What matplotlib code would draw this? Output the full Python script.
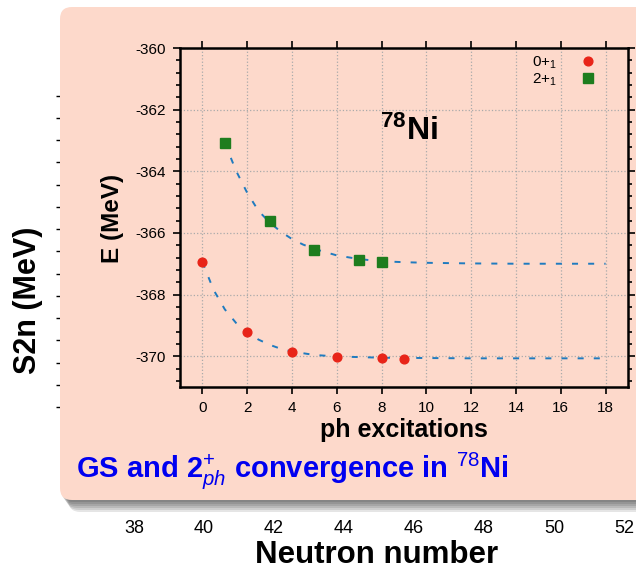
import numpy as np
import matplotlib
matplotlib.use('Agg')
import matplotlib.pyplot as plt
from matplotlib.patches import FancyBboxPatch
from matplotlib.ticker import MultipleLocator

plt.rcParams['font.family'] = ['Liberation Sans', 'DejaVu Sans']
plt.rcParams['mathtext.fontset'] = 'custom'
plt.rcParams['mathtext.rm'] = 'Liberation Sans'
plt.rcParams['mathtext.it'] = 'Liberation Sans:italic'
plt.rcParams['mathtext.bf'] = 'Liberation Sans:bold'
plt.rcParams['axes.unicode_minus'] = False

# 0+_1 (ground state) vs number of ph excitations
gs_x = [0, 2, 4, 6, 8, 9]
gs_e = [-366.95, -369.22, -369.86, -370.02, -370.07, -370.08]
# 2+_1 state
ex_x = [1, 3, 5, 7, 8]
ex_e = [-363.08, -365.62, -366.54, -366.88, -366.93]

# dashed exponential fits
gs_fit_x = [0, 0.5, 1, 1.5, 2, 2.5, 3, 3.5, 4, 5, 6, 7, 8, 10, 12, 14, 16, 18]
gs_fit_e = [-366.95, -367.85, -368.48, -368.92, -369.22, -369.46, -369.63,
            -369.76, -369.85, -369.96, -370.01, -370.03, -370.05, -370.06,
            -370.07, -370.07, -370.07, -370.07]
ex_fit_x = [1, 1.5, 2, 2.5, 3, 3.5, 4, 4.5, 5, 6, 7, 8, 9, 10, 12, 14, 16, 18]
ex_fit_e = [-363.08, -363.98, -364.70, -365.28, -365.66, -365.96, -366.20,
            -366.38, -366.52, -366.73, -366.85, -366.92, -366.95, -366.97,
            -366.99, -367.0, -367.0, -367.0]

ph_ticks = list(range(0, 19, 2))
e_ticks = [-370, -368, -366, -364, -362, -360]

# the slide chart underneath (mostly hidden)
n_ticks = [38, 40, 42, 44, 46, 48, 50, 52]
s2n_ticks = list(range(12, 41, 2))

W, H = 636, 570
fig = plt.figure(figsize=(W / 100, H / 100), dpi=100)

# background S2n chart
ax_bg = fig.add_axes([60 / W, 65 / H, 576 / W, 445 / H], zorder=0)
ax_bg.set_xlim(35.89, 52.34)
ax_bg.set_ylim(3.2, 43.2)
ax_bg.set_xticks(n_ticks)
ax_bg.set_yticks(s2n_ticks)
ax_bg.tick_params(axis='x', length=0, pad=11, labelsize=13)
ax_bg.tick_params(axis='y', length=3, width=1, labelleft=False)
for s in ax_bg.spines.values():
    s.set_visible(False)
ax_bg.set_xlabel('Neutron number', fontsize=22.5, fontweight='bold')
ax_bg.xaxis.set_label_coords(0.549, -0.13)
ax_bg.xaxis.label.set_va('baseline')
ax_bg.set_ylabel('S2n (MeV)', fontsize=22, fontweight='bold')
ax_bg.yaxis.set_label_coords(-0.0556, 0.461)
ax_bg.yaxis.label.set_va('center')

# salmon overlay box in pixel coordinates
ax_px = fig.add_axes([0, 0, 1, 1], zorder=1)
ax_px.set_xlim(0, W)
ax_px.set_ylim(H, 0)
ax_px.axis('off')
ax_px.patch.set_alpha(0)
for off in [2, 4, 6, 8, 10, 12]:
    ax_px.add_patch(FancyBboxPatch((60 + off * 0.7, 7 + off), 620, 493,
                                   boxstyle='round,pad=0,rounding_size=12',
                                   fc='black', ec='none', alpha=0.1))
ax_px.add_patch(FancyBboxPatch((60, 7), 620, 493,
                               boxstyle='round,pad=0,rounding_size=12',
                               fc='#fdd9cb', ec='none'))
ax_px.text(76, 478, r'GS and 2$^{+}_{ph}$ convergence in $^{78}$Ni',
           color='#0000f0', fontsize=21, fontweight='bold', va='baseline')

# inset: convergence with ph excitations
ax = fig.add_axes([180 / W, 183 / H, 448 / W, 339 / H], zorder=2)
ax.patch.set_alpha(0)
ax.plot(gs_fit_x, gs_fit_e, color='#1f7bbf', lw=1.4, dashes=(3.1, 5.2))
ax.plot(ex_fit_x, ex_fit_e, color='#1f7bbf', lw=1.4, dashes=(3.1, 5.2))
ax.plot(gs_x, gs_e, 'o', color='#e82418', ms=6.3, label=r'0+$_1$', zorder=3)
ax.plot(ex_x, ex_e, 's', color='#1e7d1e', ms=6.7, label=r'2+$_1$', zorder=3)
ax.set_xlim(-1, 19)
ax.set_ylim(-371, -360)
ax.set_xticks(ph_ticks)
ax.set_yticks(e_ticks)
ax.yaxis.set_minor_locator(MultipleLocator(0.4))
ax.tick_params(which='both', direction='out', top=True, right=True,
               labelsize=11, width=1.2)
ax.tick_params(which='major', length=5, pad=5)
ax.tick_params(which='minor', length=3)
for s in ax.spines.values():
    s.set_linewidth(1.8)
ax.grid(True, which='major', ls=':', color='#aaaaaa', lw=0.9)
ax.set_axisbelow(True)
ax.set_xlabel('ph excitations', fontsize=18, fontweight='bold')
ax.xaxis.set_label_coords(0.5, -0.1475)
ax.xaxis.label.set_va('baseline')
ax.set_ylabel('E (MeV)', fontsize=17.5, fontweight='bold')
ax.yaxis.set_label_coords(-0.15, 0.4985)
ax.yaxis.label.set_va('center')
ax.text(9.2, -363.0, r'$^{\mathbf{78}}$Ni', fontsize=23, fontweight='bold',
        ha='center', va='baseline')
ax.legend(loc='upper right', bbox_to_anchor=(0.941, 1.0), borderaxespad=0,
          markerfirst=False, frameon=False, fontsize=11, handlelength=1,
          handletextpad=1.5, labelspacing=0.05)

fig.savefig('out.png', dpi=100)
